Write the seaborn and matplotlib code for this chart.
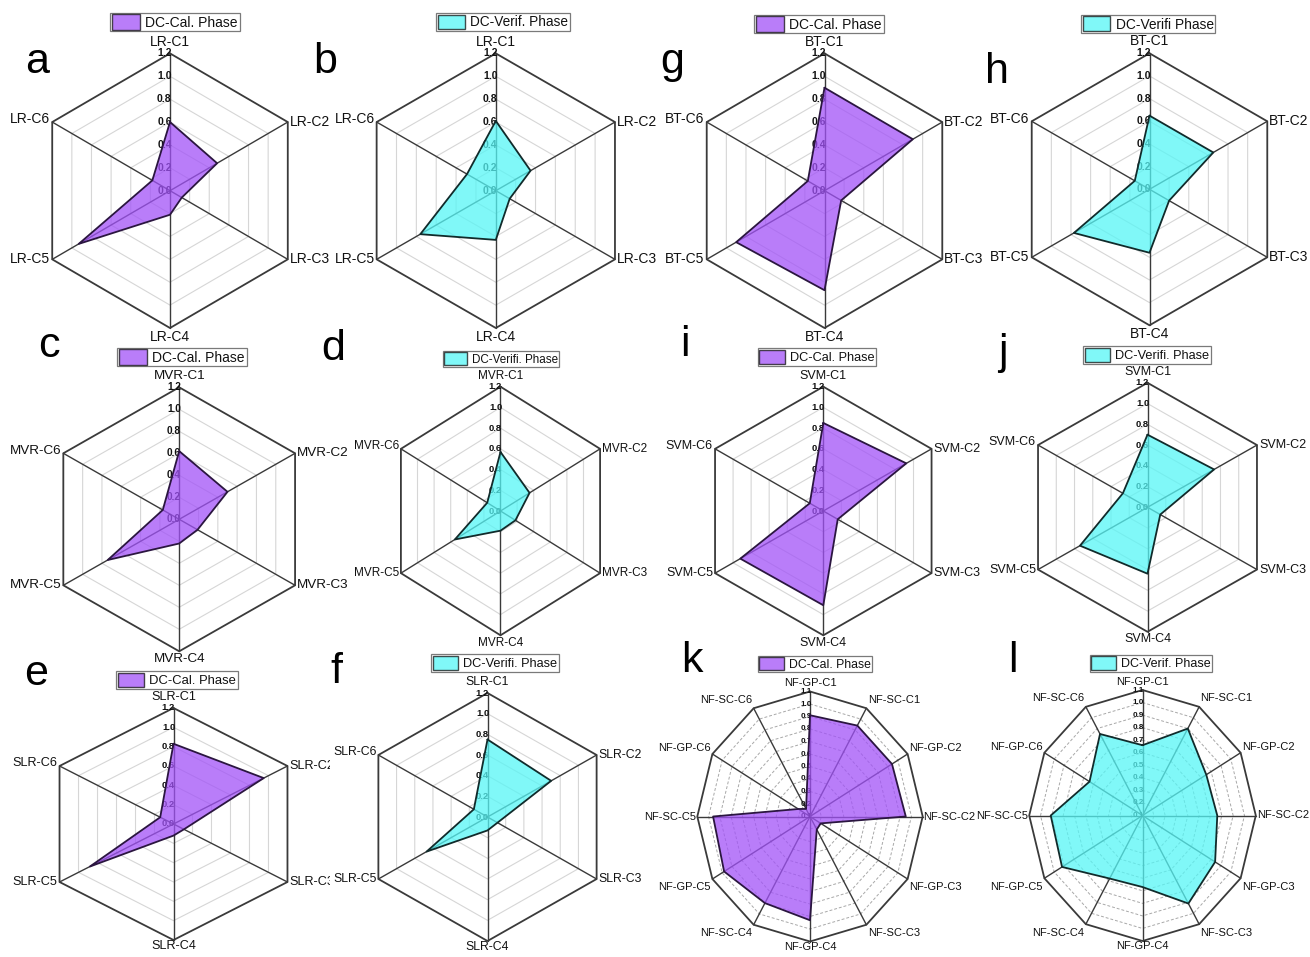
import numpy as np
import pandas as pd
import matplotlib
matplotlib.use("Agg")
import matplotlib.pyplot as plt
from matplotlib.patches import Patch
import seaborn as sns

# ---------------------------------------------------------------- data
LR_AXES = ["LR-C1", "LR-C2", "LR-C3", "LR-C4", "LR-C5", "LR-C6"]
MVR_AXES = ["MVR-C1", "MVR-C2", "MVR-C3", "MVR-C4", "MVR-C5", "MVR-C6"]
SLR_AXES = ["SLR-C1", "SLR-C2", "SLR-C3", "SLR-C4", "SLR-C5", "SLR-C6"]
BT_AXES = ["BT-C1", "BT-C2", "BT-C3", "BT-C4", "BT-C5", "BT-C6"]
SVM_AXES = ["SVM-C1", "SVM-C2", "SVM-C3", "SVM-C4", "SVM-C5", "SVM-C6"]
NF_AXES = ["NF-GP-C1", "NF-SC-C1", "NF-GP-C2", "NF-SC-C2", "NF-GP-C3", "NF-SC-C3",
           "NF-GP-C4", "NF-SC-C4", "NF-GP-C5", "NF-SC-C5", "NF-GP-C6", "NF-SC-C6"]

HEX_TICKS = [0.0, 0.2, 0.4, 0.6, 0.8, 1.0, 1.2]
NF_TICKS = [0.1, 0.2, 0.3, 0.4, 0.5, 0.6, 0.7, 0.8, 0.9, 1.0, 1.1]

LR_CAL = [0.60, 0.48, 0.12, 0.21, 0.93, 0.18]
LR_VER = [0.61, 0.35, 0.14, 0.43, 0.76, 0.29]
MVR_CAL = [0.62, 0.50, 0.19, 0.22, 0.74, 0.17]
MVR_VER = [0.57, 0.35, 0.18, 0.19, 0.55, 0.16]
SLR_CAL = [0.83, 0.95, 0.11, 0.12, 0.88, 0.14]
SLR_VER = [0.75, 0.70, 0.11, 0.13, 0.67, 0.15]
BT_CAL = [0.90, 0.90, 0.17, 0.87, 0.90, 0.17]
BT_VER = [0.65, 0.65, 0.20, 0.56, 0.77, 0.15]
SVM_CAL = [0.85, 0.92, 0.16, 0.91, 0.92, 0.15]
SVM_VER = [0.70, 0.73, 0.14, 0.64, 0.74, 0.27]
NF_CAL = [0.91, 0.94, 0.94, 0.95, 0.21, 0.22, 0.93, 0.90, 0.98, 0.96, 0.22, 0.17]
NF_VER = [0.66, 0.90, 0.75, 0.76, 0.84, 0.91, 0.67, 0.68, 0.92, 0.91, 0.64, 0.85]

CAL_LABEL = "DC-Cal. Phase"

# ---------------------------------------------------------------- styling
sns.set_theme(style="white")
plt.rcParams["font.family"] = ["Liberation Sans", "DejaVu Sans"]

W, H = 1310, 957
PURPLE = "#A252F8"
CYAN = "#56F6F6"
PURPLE_EDGE = "#2b1640"
CYAN_EDGE = "#112b2b"

# letter, axes, values, ticks, legend text, colour, edge,
# centre x/y (px), radius x/y (px), label size, tick size,
# legend centre x/y (px), legend size, letter x / baseline (px), bottom-label gap (pt)
PANELS = [
    dict(letter="a", axes=LR_AXES, vals=LR_CAL, ticks=HEX_TICKS, leg=CAL_LABEL, col=PURPLE, edge=PURPLE_EDGE,
         c=(170, 190.7), r=(136, 137.3), fs=10, tfs=7.5, lc=(175, 22), lfs=10, lp=(25, 73), bgap=1.5),
    dict(letter="b", axes=LR_AXES, vals=LR_VER, ticks=HEX_TICKS, leg="DC-Verif. Phase", col=CYAN, edge=CYAN_EDGE,
         c=(495.8, 190.7), r=(137.6, 137.3), fs=10, tfs=7.5, lc=(503, 22), lfs=9.8, lp=(313, 73), bgap=1.5),
    dict(letter="g", axes=BT_AXES, vals=BT_CAL, ticks=HEX_TICKS, leg=CAL_LABEL, col=PURPLE, edge=PURPLE_EDGE,
         c=(824.5, 190.7), r=(136, 137.3), fs=10, tfs=7.5, lc=(819, 24), lfs=10, lp=(660, 73), bgap=1.5),
    dict(letter="h", axes=BT_AXES, vals=BT_VER, ticks=HEX_TICKS, leg="DC-Verifi Phase", col=CYAN, edge=CYAN_EDGE,
         c=(1149.5, 189.3), r=(136, 136), fs=10, tfs=7.5, lc=(1148, 24), lfs=9.9, lp=(985, 83), bgap=1.5),
    dict(letter="c", axes=MVR_AXES, vals=MVR_CAL, ticks=HEX_TICKS, leg=CAL_LABEL, col=PURPLE, edge=PURPLE_EDGE,
         c=(179.2, 519.3), r=(133.8, 132), fs=9.7, tfs=7.2, lc=(182, 357), lfs=10, lp=(38, 357), bgap=1.5),
    dict(letter="d", axes=MVR_AXES, vals=MVR_VER, ticks=HEX_TICKS, leg="DC-Verifi. Phase", col=CYAN, edge=CYAN_EDGE,
         c=(500.5, 511), r=(115, 124.3), fs=8.5, tfs=6.8, lc=(501, 359), lfs=8.4, lp=(321, 360), bgap=1),
    dict(letter="i", axes=SVM_AXES, vals=SVM_CAL, ticks=HEX_TICKS, leg=CAL_LABEL, col=PURPLE, edge=PURPLE_EDGE,
         c=(823.3, 511), r=(125, 124.3), fs=9, tfs=6.8, lc=(817, 357), lfs=9.2, lp=(680, 356), bgap=1),
    dict(letter="j", axes=SVM_AXES, vals=SVM_VER, ticks=HEX_TICKS, leg="DC-Verifi. Phase", col=CYAN, edge=CYAN_EDGE,
         c=(1147.5, 507.3), r=(126.4, 124.5), fs=9, tfs=6.8, lc=(1147, 355), lfs=9.2, lp=(998, 364), bgap=1),
    dict(letter="e", axes=SLR_AXES, vals=SLR_CAL, ticks=HEX_TICKS, leg=CAL_LABEL, col=PURPLE, edge=PURPLE_EDGE,
         c=(173.5, 824.0), r=(131.6, 116), fs=9.1, tfs=6.8, lc=(177, 680), lfs=9.4, lp=(24, 685), bgap=0),
    dict(letter="f", axes=SLR_AXES, vals=SLR_VER, ticks=HEX_TICKS, leg="DC-Verifi. Phase", col=CYAN, edge=CYAN_EDGE,
         c=(487.5, 817.0), r=(126, 124), fs=8.8, tfs=6.8, lc=(495, 663), lfs=9.2, lp=(330, 683), bgap=0,
         cover=True),
    dict(letter="k", axes=NF_AXES, vals=NF_CAL, ticks=NF_TICKS, leg=CAL_LABEL, col=PURPLE, edge=PURPLE_EDGE,
         c=(810, 816.5), r=(112.7, 125), fs=8, tfs=5.8, lc=(815, 664), lfs=8.8, lp=(681, 672), bgap=0),
    dict(letter="l", axes=NF_AXES, vals=NF_VER, ticks=NF_TICKS, leg="DC-Verif. Phase", col=CYAN, edge=CYAN_EDGE,
         c=(1142.5, 815.5), r=(113.3, 125.5), fs=8, tfs=5.8, lc=(1151, 663), lfs=9, lp=(1008, 672), bgap=0),
]


def label_placement(deg, n, bgap):
    """Offset (points) and alignment of a category label at a vertex."""
    if deg == 0:
        return (0, 3.5 if n == 6 else 2.5), "center", "bottom"
    if deg == 180:
        return (0, -bgap), "center", "top"
    right = deg < 180
    ha = "left" if right else "right"
    sx = 1.5 if right else -1.5
    if n == 6:
        dy = 2 if deg == 300 else 0
        return (sx, dy), ha, "center"
    if deg in (90, 270):
        return (sx * 0.4, 0), ha, "center"
    upper = deg < 90 or deg > 270
    if upper:
        dy = 2.5 if deg in (30, 330) else 0.5
        return (sx * 0.7, dy), ha, "bottom"
    return (sx * 0.7, -2.5), ha, "top"


def draw_panel(fig, p):
    labels, vals, ticks = p["axes"], p["vals"], p["ticks"]
    n = len(labels)
    theta = 2 * np.pi * np.arange(n) / n
    r0 = ticks[0]
    rout = ticks[-1] - r0
    cx, cy = p["c"]
    rx, ry = p["r"]

    hw = cx - 330 if p.get("cover") else 165.0
    hh = 168.0
    ax = fig.add_axes([(cx - hw) / W, 1 - (cy + hh) / H, 2 * hw / W, 2 * hh / H])
    ax.set_facecolor("white" if p.get("cover") else "none")
    for s in ax.spines.values():
        s.set_visible(False)
    ax.set_xticks([])
    ax.set_yticks([])

    sx_, cx_ = np.sin(theta), np.cos(theta)
    loop = np.r_[np.arange(n), 0]

    # concentric rings
    for t in ticks[1:]:
        rr = t - r0
        if np.isclose(t, ticks[-1]):
            ax.plot(rr * sx_[loop], rr * cx_[loop], color="#3a3a3a", lw=1.3, zorder=2)
        elif n == 6:
            ax.plot(rr * sx_[loop], rr * cx_[loop], color="#d6d6d6", lw=0.8, zorder=1)
        else:
            ax.plot(rr * sx_[loop], rr * cx_[loop], color="#a8a8a8", lw=0.7,
                    ls=(0, (3, 2)), zorder=1)

    # spokes
    for a, b in zip(sx_, cx_):
        ax.plot([0, rout * a], [0, rout * b], color="#3a3a3a", lw=1.0, zorder=2)

    # radial tick labels along the first spoke
    for t in ticks:
        ax.annotate(f"{t:.1f}", xy=(0, t - r0), xytext=(1.2, 0), textcoords="offset points",
                    ha="right", va="center", fontsize=p["tfs"], fontweight="bold",
                    color="#111111", zorder=3, annotation_clip=False)

    # data polygon
    r = np.asarray(vals, dtype=float) - r0
    px, py = r * sx_, r * cx_
    ax.fill(px, py, color=p["col"], alpha=0.75, lw=0, zorder=4)
    outline = pd.DataFrame({"x": px[loop], "y": py[loop]})
    sns.lineplot(data=outline, x="x", y="y", sort=False, estimator=None,
                 color=p["edge"], lw=1.3, ax=ax, zorder=5, legend=False)
    ax.set_xlabel("")
    ax.set_ylabel("")

    # category labels at the vertices
    for k, lab in enumerate(labels):
        deg = round(np.degrees(theta[k])) % 360
        off, ha, va = label_placement(deg, n, p["bgap"])
        ax.annotate(lab, xy=(rout * sx_[k], rout * cx_[k]), xytext=off,
                    textcoords="offset points", ha=ha, va=va, fontsize=p["fs"],
                    color="#111111", zorder=6, annotation_clip=False)

    ax.set_xlim(-hw / rx * rout, hw / rx * rout)
    ax.set_ylim(-hh / ry * rout, hh / ry * rout)

    # phase legend
    handle = Patch(facecolor=p["col"], alpha=0.75, edgecolor="#111111", lw=1.0, label=p["leg"])
    leg = ax.legend(handles=[handle], loc="center",
                    bbox_to_anchor=(p["lc"][0] / W, 1 - p["lc"][1] / H),
                    bbox_transform=fig.transFigure, fontsize=p["lfs"], frameon=True,
                    fancybox=False, framealpha=1, edgecolor="#7a7a7a", handlelength=2.0,
                    handleheight=1.3, handletextpad=0.4, borderpad=0.12, borderaxespad=0)
    leg.get_frame().set_linewidth(0.9)
    for txt in leg.get_texts():
        txt.set_color("#111111")
    leg.set_zorder(10)

    fig.text(p["lp"][0] / W, 1 - p["lp"][1] / H, p["letter"], fontsize=31,
             ha="left", va="baseline", color="black")


fig = plt.figure(figsize=(W / 100, H / 100), dpi=100)
fig.patch.set_facecolor("white")
for panel in PANELS:
    draw_panel(fig, panel)

fig.savefig("out.png", dpi=100, facecolor="white")
